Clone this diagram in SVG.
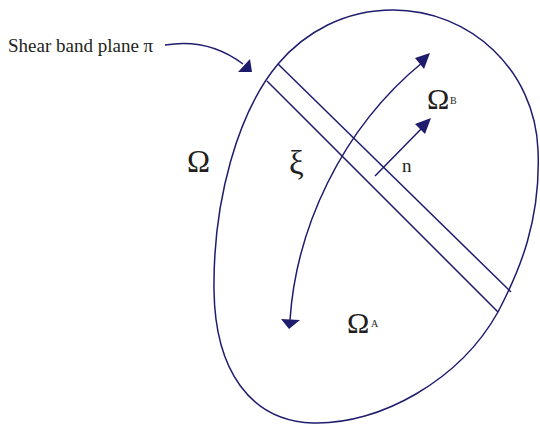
<svg xmlns="http://www.w3.org/2000/svg" width="540" height="424" viewBox="0 0 540 424">
<style>
.ln{fill:none;stroke:#1f1c6e;stroke-width:1.5}
.ah{fill:#1f1c6e}
.t{font-family:"Liberation Serif","DejaVu Serif",serif;fill:#231f20}
</style>
<rect width="540" height="424" fill="#fff"/>
<g id="domain">
<path class="ln" d="M 393 10 C 470 10 535 70 538 150 C 541 220 520 270 498 312 C 460 380 380 425 313 423 C 250 421 215 370 214 290 C 213 200 238 112 278 64 C 305 32 345 10 393 10 Z"/>
</g>
<g id="band">
<line class="ln" x1="278" y1="64" x2="511" y2="292"/>
<line class="ln" x1="267" y1="81" x2="498" y2="312"/>
</g>
<g id="connectors">
<path class="ln" d="M 165 45 C 195 40 222 48 243 64"/>
<polygon class="ah" points="252,72 238,72 250,59"/>
<path class="ln" d="M 290 320 C 296 230 340 130 423 62"/>
<polygon class="ah" points="430,53 424,69 415,58"/>
<polygon class="ah" points="289,329 281,319 300,320"/>
<line class="ln" x1="375" y1="176" x2="424" y2="126"/>
<polygon class="ah" points="431,118 425,134 415,124"/>
</g>
<g id="labels">
<text class="t" x="8" y="52" font-size="19">Shear band plane π</text>
<text class="t" x="187" y="172" font-size="31">Ω</text>
<text class="t" x="289" y="174" font-size="33">ξ</text>
<text class="t" x="402" y="172" font-size="19">n</text>
<text class="t" x="427" y="109" font-size="30">Ω</text>
<text class="t" x="450" y="104" font-size="10">B</text>
<text class="t" x="347" y="333" font-size="30">Ω</text>
<text class="t" x="371" y="327" font-size="10">A</text>
</g>
</svg>
